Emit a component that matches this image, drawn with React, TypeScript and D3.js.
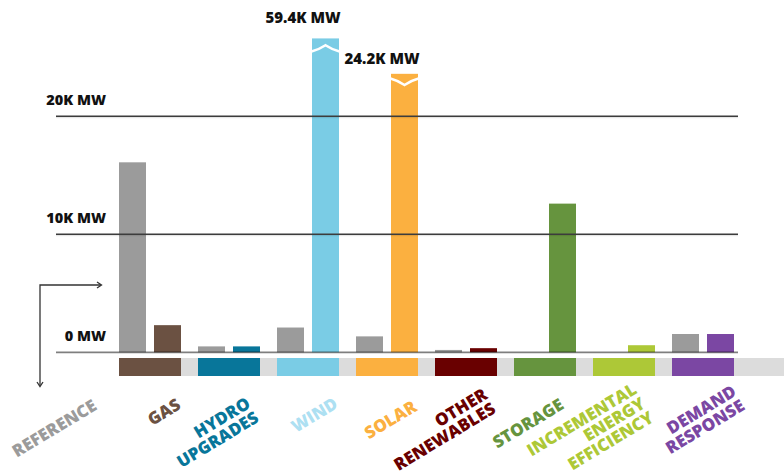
import React from 'react';
import * as d3 from 'd3';

// Capacity added by 2035, in thousands of MW
const categories = [
  'GAS',
  'HYDRO UPGRADES',
  'WIND',
  'SOLAR',
  'OTHER RENEWABLES',
  'STORAGE',
  'INCREMENTAL ENERGY EFFICIENCY',
  'DEMAND RESPONSE',
];
const categoryLines = [
  ['GAS'],
  ['HYDRO', 'UPGRADES'],
  ['WIND'],
  ['SOLAR'],
  ['OTHER', 'RENEWABLES'],
  ['STORAGE'],
  ['INCREMENTAL', 'ENERGY', 'EFFICIENCY'],
  ['DEMAND', 'RESPONSE'],
];
const referenceValues = [16.1, 0.5, 2.1, 1.35, 0.2, 0, 0, 1.55];
const portfolioValues = [2.3, 0.5, 59.4, 24.2, 0.35, 12.6, 0.6, 1.55];
const yTicks = [0, 10, 20];
const referenceLabel = 'REFERENCE';

// styling
const categoryColors = ['#6b5142', '#08769a', '#7accE5', '#fbb040', '#690000', '#66943e', '#adc837', '#7b47a3'];
const labelColors = ['#6b5142', '#08769a', '#ade0f2', '#fbb040', '#690000', '#66943e', '#adc837', '#7b47a3'];
const referenceColor = '#9b9b9b';

// bars that run off the chart are cut at these heights and marked with a break
const breakCaps: Record<string, number> = { WIND: 26.6, SOLAR: 23.6 };
const breakOffsets: Record<string, number> = { WIND: 10, SOLAR: 8 };
const valueLabelRise: Record<string, number> = { WIND: 15, SOLAR: 10 };

// rotated category labels: [x offset from band right edge, baseline y of the last line]
const labelAnchors: [number, number][] = [
  [1, 407],
  [0, 420],
  [0, 406],
  [0, 409],
  [0, 411],
  [-11, 407],
  [0, 420],
  [12, 408],
];

const W = 784;
const H = 475;
const FONT = "'Open Sans', sans-serif";

export default function App() {
  const x = d3
    .scaleBand<string>()
    .domain(categories)
    .range([119, 734])
    .paddingInner(17 / 79)
    .paddingOuter(0);
  const inner = d3
    .scaleBand<string>()
    .domain(['ref', 'alt'])
    .range([0, x.bandwidth()])
    .paddingInner(8 / 35)
    .paddingOuter(0);
  const y = d3.scaleLinear().domain([0, 20]).range([352.3, 116.3]);

  const gridLeft = 56;
  const gridRight = 738;
  const bandTop = 358;
  const bandH = 18;
  const fmt = (d: number) => (d === 0 ? '0 MW' : `${d}K MW`);
  const valueFmt = (d: number) => `${d3.format('.1f')(d)}K MW`;

  const wavePath = (x0: number, x1: number, yc: number, up: boolean) => {
    const mid = (x0 + x1) / 2;
    const a = up ? -3.2 : 3.2;
    return `M${x0},${yc - a} Q${(x0 + mid) / 2},${yc - a * 0.4} ${mid},${yc + a} Q${(mid + x1) / 2},${yc - a * 0.4} ${x1},${yc - a}`;
  };

  const lineH = 16.5;
  const labelSize = 17;
  const labelAngle = -31;

  return (
    <svg
      width={W}
      height={H}
      viewBox={`0 0 ${W} ${H}`}
      style={{ position: 'absolute', left: 0, top: 0, display: 'block', background: '#fff' }}
    >
      {/* category strip under the axis */}
      <rect x={x(categories[0])} y={bandTop} width={W - (x(categories[0]) as number)} height={bandH} fill="#dcdcdc" />
      {categories.map((c, i) => (
        <rect key={`band-${c}`} x={x(c)} y={bandTop} width={x.bandwidth()} height={bandH} fill={categoryColors[i]} />
      ))}

      {/* bars */}
      {categories.map((c, i) => {
        const x0 = x(c) as number;
        const refV = referenceValues[i];
        const altV = portfolioValues[i];
        const shown = breakCaps[c] !== undefined ? Math.min(altV, breakCaps[c]) : altV;
        const ax = x0 + (inner('alt') as number);
        const bw = inner.bandwidth();
        return (
          <g key={`bars-${c}`}>
            {refV > 0 && (
              <rect x={x0 + (inner('ref') as number)} y={y(refV)} width={bw} height={y(0) - y(refV)} fill={referenceColor} />
            )}
            {altV > 0 && <rect x={ax} y={y(shown)} width={bw} height={y(0) - y(shown)} fill={categoryColors[i]} />}
            {breakCaps[c] !== undefined && (
              <path
                d={wavePath(ax - 0.5, ax + bw + 0.5, y(shown) + breakOffsets[c], c === 'WIND')}
                fill="none"
                stroke="#fff"
                strokeWidth={2.6}
              />
            )}
          </g>
        );
      })}

      {/* gridlines */}
      {yTicks
        .filter((t) => t !== 0)
        .map((t) => (
          <g key={`grid-${t}`}>
            <line x1={gridLeft} x2={gridRight} y1={y(t) + 1.4} y2={y(t) + 1.4} stroke="#000" strokeOpacity={0.12} strokeWidth={1} />
            <line x1={gridLeft} x2={gridRight} y1={y(t)} y2={y(t)} stroke="#3c3c3c" strokeWidth={1.4} />
          </g>
        ))}
      <line x1={gridLeft} x2={gridRight} y1={y(0)} y2={y(0)} stroke="#000" strokeOpacity={0.5} strokeWidth={1.8} />

      {/* tick labels */}
      {yTicks.map((t) => (
        <text
          key={`tick-${t}`}
          x={106}
          y={y(t) - 11}
          textAnchor="end"
          fontFamily={FONT}
          fontWeight={800}
          fontSize={14.5}
          fill="#111"
        >
          {fmt(t)}
        </text>
      ))}

      {/* value labels on broken bars */}
      {categories.map((c, i) => {
        if (breakCaps[c] === undefined) return null;
        const ax = (x(c) as number) + (inner('alt') as number);
        const top = y(Math.min(portfolioValues[i], breakCaps[c]));
        return (
          <text
            key={`val-${c}`}
            x={ax + inner.bandwidth() + 1.5}
            y={top - valueLabelRise[c]}
            textAnchor="end"
            fontFamily={FONT}
            fontWeight={800}
            fontSize={15}
            fill="#111"
          >
            {valueFmt(portfolioValues[i])}
          </text>
        );
      })}

      {/* corner arrow */}
      <g stroke="#333" strokeWidth={1.3} fill="none">
        <path d="M101,285 H40 V386" />
        <path d="M97,282 L101.5,285 L97,288" />
        <path d="M37,382 L40,386.5 L43,382" />
      </g>

      {/* rotated category labels */}
      <text
        transform={`translate(98,409) rotate(${labelAngle})`}
        textAnchor="end"
        fontFamily={FONT}
        fontWeight={800}
        fontSize={labelSize}
        fill={referenceColor}
      >
        {referenceLabel}
      </text>
      {categories.map((c, i) => {
        const right = (x(c) as number) + x.bandwidth();
        const [dx, ay] = labelAnchors[i];
        const lines = categoryLines[i];
        return (
          <text
            key={`label-${c}`}
            transform={`translate(${right + dx},${ay + 1}) rotate(${labelAngle})`}
            textAnchor="end"
            fontFamily={FONT}
            fontWeight={800}
            fontSize={labelSize}
            fill={labelColors[i]}
          >
            {lines.map((ln, j) => (
              <tspan key={ln} x={0} y={-(lines.length - 1 - j) * lineH}>
                {ln}
              </tspan>
            ))}
          </text>
        );
      })}
    </svg>
  );
}
